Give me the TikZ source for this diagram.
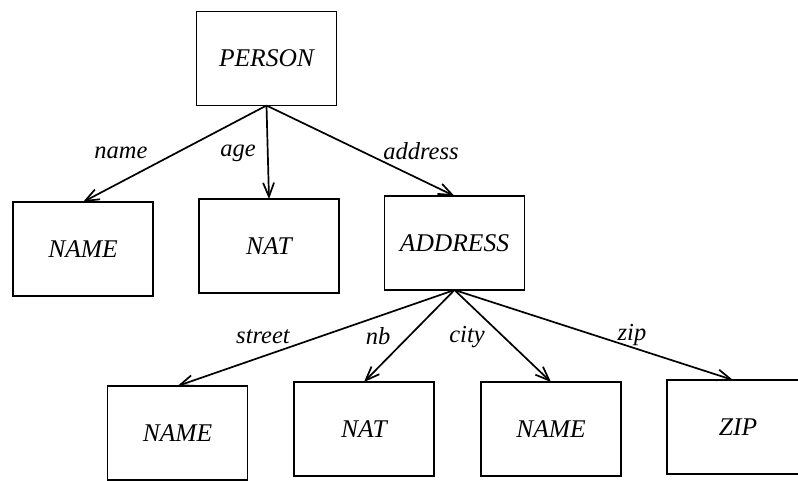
\documentclass[tikz,border=0pt]{standalone}
\usepackage{fontspec}
\setmainfont{Liberation Serif}
\usetikzlibrary{arrows.meta}
\begin{document}
\begin{tikzpicture}[x=1pt,y=-1pt,
  typebox/.style={draw, line width=1.7pt, minimum width=140pt, minimum height=94pt,
    inner sep=0pt, outer sep=0pt, font=\fontsize{25.5}{30}\selectfont\itshape},
  edge/.style={line width=1.7pt, -{Straight Barb[length=14pt,width=11pt,line width=1.7pt]}},
  lbl/.style={font=\fontsize{24.5}{28}\selectfont\itshape, inner sep=0pt}]
\useasboundingbox (0,0) rectangle (798,480);
% type boxes
\node[typebox] (person)  at (266.5,58.5) {PERSON};
\node[typebox] (name1)   at (83,249)     {NAME};
\node[typebox] (nat1)    at (269,246)    {NAT};
\node[typebox] (address) at (454.5,243)  {ADDRESS};
\node[typebox] (name2)   at (177.5,433)  {NAME};
\node[typebox] (nat2)    at (364,429)    {NAT};
\node[typebox] (name3)   at (551,429)    {NAME};
\node[typebox, minimum width=142pt, text width=132pt, align=center] (zip) at (738,427) {ZIP};
% attribute edges
\draw[edge] (person.south) -- (name1.north);
\draw[edge] (person.south) -- (nat1.north);
\draw[edge] (person.south) -- (address.north);
\draw[edge] (address.south) -- (name2.north);
\draw[edge] (address.south) -- (nat2.north);
\draw[edge] (address.south) -- (name3.north);
\draw[edge] (address.south) -- ([xshift=66pt]zip.north west);
% edge labels
\node[lbl] (lname)    at (121,153) {name};
\node[lbl] (lage)     at (238,153) {age};
\node[lbl] (laddress) at (421,151) {address};
\node[lbl] (lstreet)  at (263,337) {street};
\node[lbl] (lnb)      at (378,336) {nb};
\node[lbl] (lcity)    at (467,337) {city};
\node[lbl] (lzip)     at (632,335) {zip};
\end{tikzpicture}
\end{document}
